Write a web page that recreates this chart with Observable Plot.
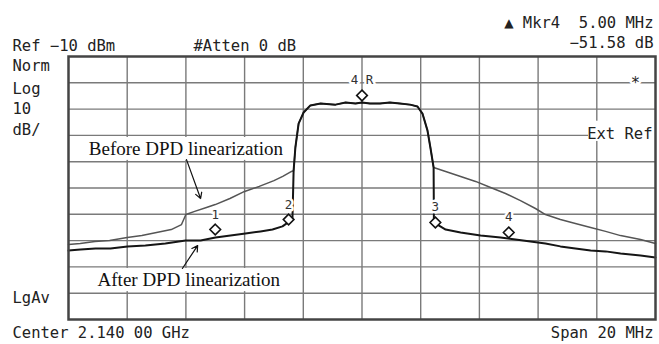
<!DOCTYPE html>
<html>
<head>
<meta charset="utf-8">
<script src="https://cdn.jsdelivr.net/npm/d3@7"></script>
<script src="https://cdn.jsdelivr.net/npm/@observablehq/plot@0.6"></script>
<style>
  html, body { margin: 0; padding: 0; background: white; }
</style>
</head>
<body>
<div id="chart"></div>
<script>
// ---- Data (frequency offset from 2.140 GHz in MHz, level in dB) ----
const beforeLeftF  = [-10.0, -9.6, -9.1, -8.6, -8.0, -7.5, -7.0, -6.5, -6.15, -6.0, -5.7, -5.3, -5.0, -4.5, -4.0, -3.5, -3.0, -2.7, -2.4];
const beforeLeftDb = [-81.5, -81.1, -80.3, -80.0, -78.8, -78.1, -76.9, -75.8, -73.9, -70.1, -68.9, -67.4, -66.3, -64.0, -61.3, -59.4, -57.2, -55.6, -53.7];

const channelF  = [-2.33, -2.27, -2.16, -1.99, -1.76, -1.41, -0.90, -0.56, -0.22, 0.0, 0.27, 0.61, 0.95, 1.29, 1.64, 1.89, 2.06, 2.23, 2.33, 2.44];
const channelDb = [-53.4, -44.6, -35.5, -31.3, -28.6, -27.9, -28.3, -27.5, -27.9, -27.5, -27.9, -27.9, -27.5, -27.9, -28.3, -29.0, -31.7, -38.1, -44.6, -52.2];

const beforeRightF  = [2.85, 3.36, 3.87, 4.38, 4.89, 5.40, 5.91, 6.25, 6.76, 7.27, 7.79, 8.30, 8.81, 9.49, 10.0];
const beforeRightDb = [-53.7, -55.6, -57.5, -59.8, -62.1, -64.8, -67.8, -70.1, -72.0, -73.5, -75.0, -76.5, -78.1, -79.6, -81.1];

const afterLeftF  = [-10.0, -9.59, -9.08, -8.57, -7.99, -7.38, -6.70, -6.01, -5.50, -4.99, -4.48, -3.97, -3.46, -3.05, -2.71, -2.47, -2.37];
const afterLeftDb = [-83.8, -83.4, -83.0, -83.0, -82.2, -81.9, -81.1, -80.0, -80.0, -78.8, -78.1, -77.3, -76.5, -75.8, -74.6, -72.7, -72.0];

const afterRightF  = [2.45, 2.57, 2.85, 3.36, 4.04, 4.72, 5.23, 5.74, 6.25, 6.76, 7.27, 7.79, 8.30, 8.81, 9.49, 10.0];
const afterRightDb = [-72.4, -73.9, -75.8, -76.9, -78.1, -78.8, -79.6, -80.3, -81.1, -82.2, -83.0, -83.8, -84.1, -84.9, -85.7, -86.4];

const markerNames = ["1", "2", "3", "4", "4 R"];
const markerF     = [-5, -2.5, 2.5, 5, 0];
const markerDb    = [-75.8, -72.0, -73.1, -76.9, -24.8];

const gridF  = [-8, -6, -4, -2, 0, 2, 4, 6, 8];
const gridDb = [-20, -30, -40, -50, -60, -70, -80, -90, -100];

const annotationTexts = ["Before DPD linearization", "After DPD linearization", ""];
const annotationBoxF1 = [-9.59, -9.32, 7.72];
const annotationBoxF2 = [-2.50, -2.61, 10.0];
const annotationBoxDb1 = [-40.8, -90.6, -34.6];
const annotationBoxDb2 = [-49.5, -99.4, -42.3];
const annotationTextF = [-6.0, -5.9, 8.8];
const annotationTextDb = [-45.2, -95.0, -38.4];
const arrowF1 = [-5.98, -6.12], arrowDb1 = [-49.2, -90.6];
const arrowF2 = [-5.50, -5.60], arrowDb2 = [-64.0, -81.9];

// ---- Build tables ----
const zip = (fs, ds) => fs.map((f, i) => ({f, db: ds[i]}));
const before = [...zip(beforeLeftF, beforeLeftDb), ...zip(channelF, channelDb), ...zip(beforeRightF, beforeRightDb)];
const after = [...zip(afterLeftF, afterLeftDb), ...zip(channelF, channelDb), ...zip(afterRightF, afterRightDb)];
const markers = markerNames.map((n, i) => ({name: n, f: markerF[i], db: markerDb[i]}));
const boxes = annotationTexts.map((t, i) => ({t, f1: annotationBoxF1[i], f2: annotationBoxF2[i], d1: annotationBoxDb1[i], d2: annotationBoxDb2[i], tf: annotationTextF[i], td: annotationTextDb[i]}));
const arrows = arrowF1.map((f, i) => ({f1: f, d1: arrowDb1[i], f2: arrowF2[i], d2: arrowDb2[i]}));

const mono = "DejaVu Sans Mono";
const instr = 15.5;
const label = (txt, o) => Plot.text([txt], {text: d => d, fontFamily: mono, fontSize: instr, fill: "#222", lineAnchor: "bottom", ...o});

const chart = Plot.plot({
  width: 659,
  height: 344,
  marginLeft: 68,
  marginRight: 4,
  marginTop: 56,
  marginBottom: 25,
  x: {domain: [-10, 10], axis: null},
  y: {domain: [-110, -10], axis: null},
  style: {background: "white", overflow: "visible"},
  marks: [
    Plot.ruleX(gridF, {stroke: "#7a7a7a", strokeWidth: 1.4}),
    Plot.ruleY(gridDb, {stroke: "#7a7a7a", strokeWidth: 1.4}),
    Plot.rect(boxes, {x1: "f1", x2: "f2", y1: "d1", y2: "d2", fill: "white"}),
    Plot.line(before, {x: "f", y: "db", stroke: "#555", strokeWidth: 1.5}),
    Plot.line(after, {x: "f", y: "db", stroke: "#151515", strokeWidth: 2}),
    Plot.frame({stroke: "#444", strokeWidth: 2.5}),
    Plot.text(boxes, {x: "tf", y: "td", text: "t", fontFamily: "Liberation Serif", fontSize: 19, fill: "#111"}),
    Plot.arrow(arrows, {x1: "f1", y1: "d1", x2: "f2", y2: "d2", stroke: "#111", strokeWidth: 1.2, headLength: 8}),
    Plot.text(markers, {x: "f", y: "db", text: "name", dy: -15, fontFamily: mono, fontSize: 12.5, fill: "#333", stroke: "white", strokeWidth: 5}),
    Plot.dot(markers, {x: "f", y: "db", symbol: "diamond2", r: 4.8, fill: "white", stroke: "#111", strokeWidth: 1.6}),
    // instrument annotations
    label("Ref \u221210 dBm", {frameAnchor: "top-left", dx: -56, dy: -6, textAnchor: "start"}),
    label("#Atten 0 dB", {frameAnchor: "top-left", dx: 125, dy: -6, textAnchor: "start"}),
    label("\u25B2 Mkr4  5.00 MHz", {frameAnchor: "top-right", dx: -2, dy: -29, textAnchor: "end"}),
    label("\u221251.58 dB", {frameAnchor: "top-right", dx: -2, dy: -9, textAnchor: "end"}),
    label("Norm", {frameAnchor: "top-left", dx: -56, dy: 14, textAnchor: "start"}),
    label("Log", {frameAnchor: "top-left", dx: -56, dy: 37, textAnchor: "start"}),
    label("10", {frameAnchor: "top-left", dx: -56, dy: 57, textAnchor: "start"}),
    label("dB/", {frameAnchor: "top-left", dx: -56, dy: 78, textAnchor: "start"}),
    label("LgAv", {frameAnchor: "bottom-left", dx: -56, dy: -17, textAnchor: "start"}),
    label("Center 2.140 00 GHz", {frameAnchor: "bottom-left", dx: -56, dy: 18, textAnchor: "start"}),
    label("Span 20 MHz", {frameAnchor: "bottom-right", dx: -2, dy: 18, textAnchor: "end"}),
    label("Ext Ref", {frameAnchor: "top-right", dx: -3, dy: 82, textAnchor: "end"}),
    label("*", {frameAnchor: "top-right", dx: -20, dy: 31, textAnchor: "middle", stroke: "white", strokeWidth: 5})
  ]
});
document.getElementById("chart").appendChild(chart);
</script>
</body>
</html>
